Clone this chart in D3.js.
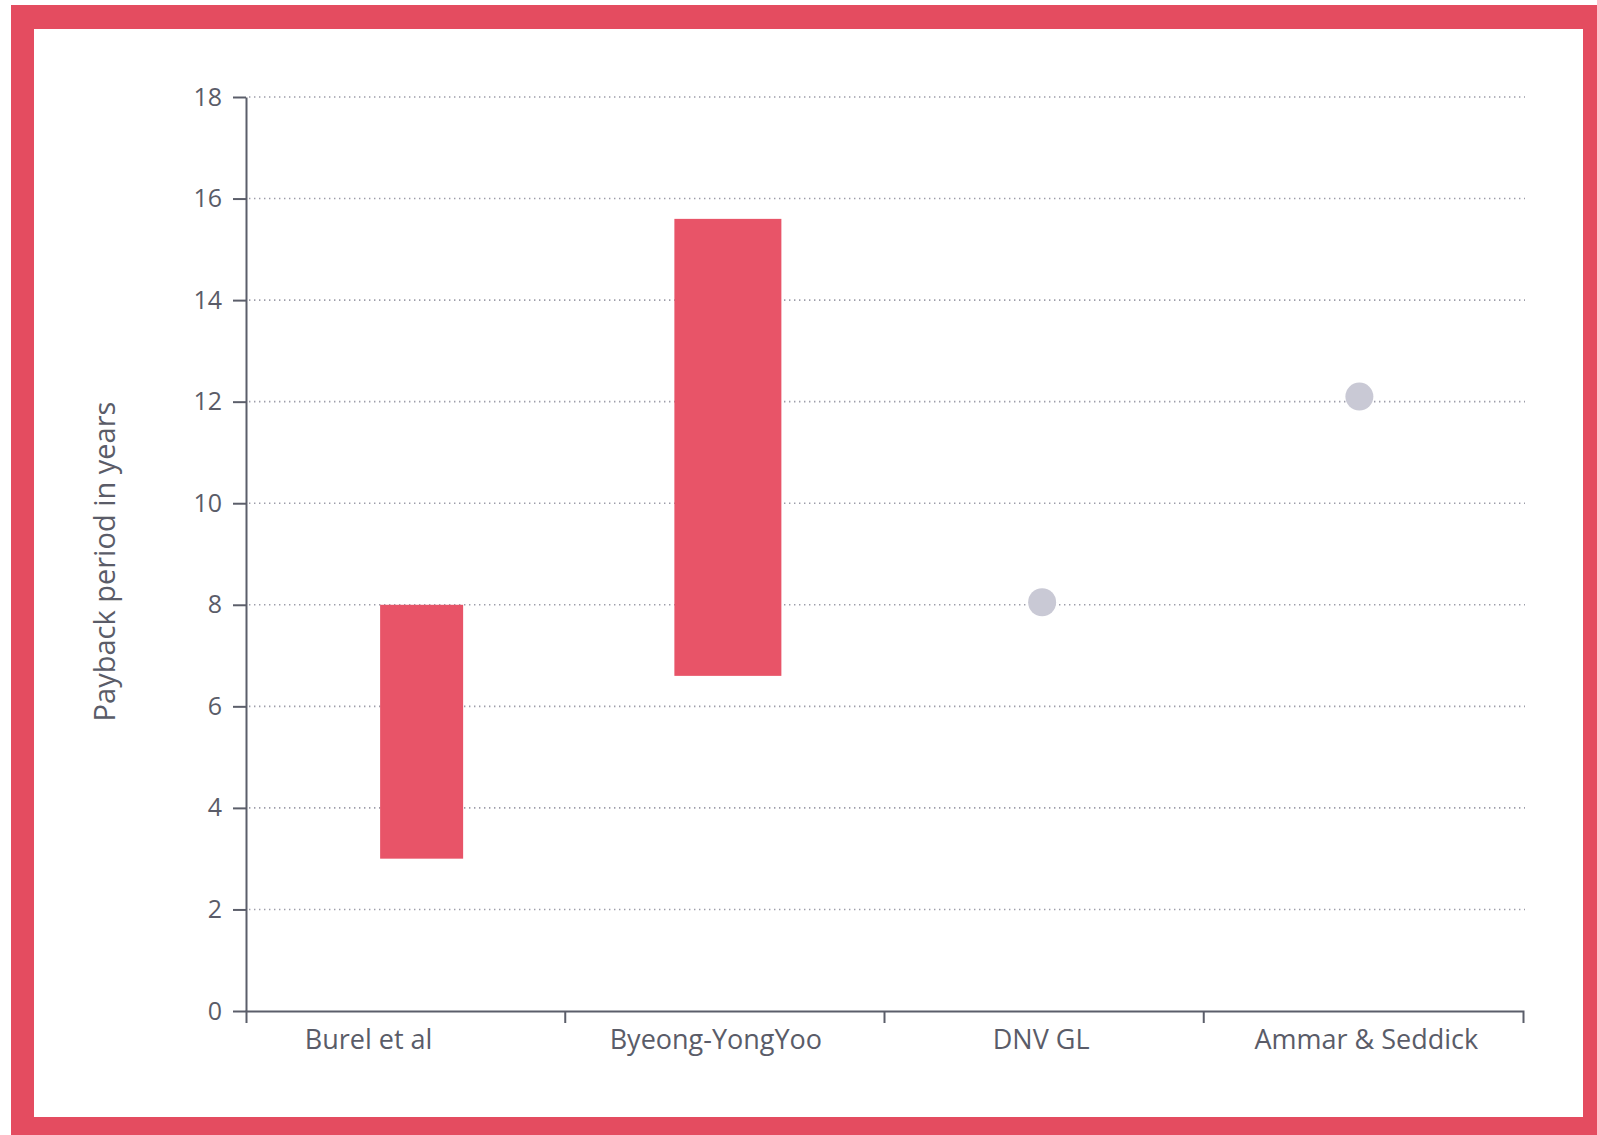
<!DOCTYPE html>
<html>
<head>
<meta charset="utf-8">
<script src="https://cdn.jsdelivr.net/npm/d3@7"></script>
<style>
  html, body { margin: 0; padding: 0; background: #ffffff; }
  svg { display: block; }
  text { font-family: "Open Sans", Lato, sans-serif; }
</style>
</head>
<body>
<svg id="chart" width="1597" height="1135"></svg>
<script>
// Payback period estimates by study
const categories = ["Burel et al", "Byeong-YongYoo", "DNV GL", "Ammar & Seddick"];
// studies that report a range of years
const rangeLow  = [3, 6.6, null, null];
const rangeHigh = [8, 15.6, null, null];
// studies that report a single figure
const pointValue = [null, null, 8.05, 12.1];
const yTickValues = [0, 2, 4, 6, 8, 10, 12, 14, 16, 18];
const yTitle = "Payback period in years";

// layout: small per-column nudges (px) and bar widths
const labelShift = [-37, -9, -3, 3];
const markShift  = [16, 3, -2, -4];
const barWidths  = [83, 107, 0, 0];

const W = 1597, H = 1135;
const plot = { left: 246, right: 1523, top: 97, bottom: 1011 };
const RED = "#e85468", FRAME = "#e44c60", DOT = "#c9c9d5", INK = "#5b5e6a", TEXT = "#5a5c68";

const svg = d3.select("#chart");

// red frame with white panel
svg.append("rect").attr("x", 0).attr("y", 0).attr("width", W).attr("height", H).attr("fill", "#ffffff");
svg.append("rect").attr("x", 11).attr("y", 5).attr("width", W - 11).attr("height", H - 5).attr("fill", FRAME);
svg.append("rect").attr("x", 34).attr("y", 29).attr("width", 1583 - 34).attr("height", 1117 - 29).attr("fill", "#ffffff");

const x = d3.scaleBand().domain(categories).range([plot.left, plot.right]).paddingInner(0).paddingOuter(0);
const y = d3.scaleLinear().domain([0, 18]).range([plot.bottom, plot.top]);
const bw = x.bandwidth();
const cx = (d, i) => x(d) + bw / 2 + markShift[i];

// dotted gridlines
svg.append("g")
  .selectAll("line")
  .data(yTickValues.filter(v => v > 0))
  .join("line")
  .attr("x1", plot.left + 3).attr("x2", plot.right + 2)
  .attr("y1", d => y(d)).attr("y2", d => y(d))
  .attr("stroke", "#9c9ca8").attr("stroke-width", 1.6)
  .attr("stroke-dasharray", "1.4,3.6");

// y axis
const yAxis = svg.append("g")
  .attr("transform", `translate(${plot.left},0)`)
  .call(d3.axisLeft(y).tickValues(yTickValues).tickSize(13).tickSizeOuter(0).tickPadding(11).tickFormat(d3.format("d")));
yAxis.select(".domain").attr("stroke", INK).attr("stroke-width", 2);
yAxis.selectAll(".tick line").attr("stroke", INK).attr("stroke-width", 2);
yAxis.selectAll(".tick text").attr("fill", TEXT).style("font-size", "25px");

// x axis: labels from the band scale, ticks on band edges
const xAxis = svg.append("g")
  .attr("transform", `translate(0,${plot.bottom})`)
  .call(d3.axisBottom(x).tickSize(0).tickSizeOuter(12).tickPadding(19));
xAxis.select(".domain").attr("stroke", INK).attr("stroke-width", 2).attr("fill", "none");
xAxis.selectAll(".tick")
  .attr("transform", (d, i) => `translate(${x(d) + bw / 2 + labelShift[i]},0)`);
xAxis.selectAll(".tick text").attr("fill", TEXT).style("font-size", "27px");
xAxis.selectAll("line.edge")
  .data(categories.slice(1))
  .join("line")
  .attr("class", "edge")
  .attr("x1", d => x(d)).attr("x2", d => x(d))
  .attr("y1", 0).attr("y2", 12)
  .attr("stroke", INK).attr("stroke-width", 2);

// range bars
const ranges = categories.map((c, i) => ({ c, i, lo: rangeLow[i], hi: rangeHigh[i] }))
  .filter(d => d.lo != null);
svg.append("g")
  .selectAll("rect")
  .data(ranges)
  .join("rect")
  .attr("x", d => cx(d.c, d.i) - barWidths[d.i] / 2)
  .attr("width", d => barWidths[d.i])
  .attr("y", d => y(d.hi))
  .attr("height", d => y(d.lo) - y(d.hi))
  .attr("fill", RED);

// single-value points
const points = categories.map((c, i) => ({ c, i, v: pointValue[i] })).filter(d => d.v != null);
svg.append("g")
  .selectAll("circle")
  .data(points)
  .join("circle")
  .attr("cx", d => cx(d.c, d.i))
  .attr("cy", d => y(d.v))
  .attr("r", 14)
  .attr("fill", DOT);

// y axis title
svg.append("text")
  .attr("transform", `translate(115,${(402 + 721) / 2}) rotate(-90)`)
  .attr("text-anchor", "middle")
  .attr("fill", TEXT)
  .style("font-size", "29px")
  .text(yTitle);
</script>
</body>
</html>
